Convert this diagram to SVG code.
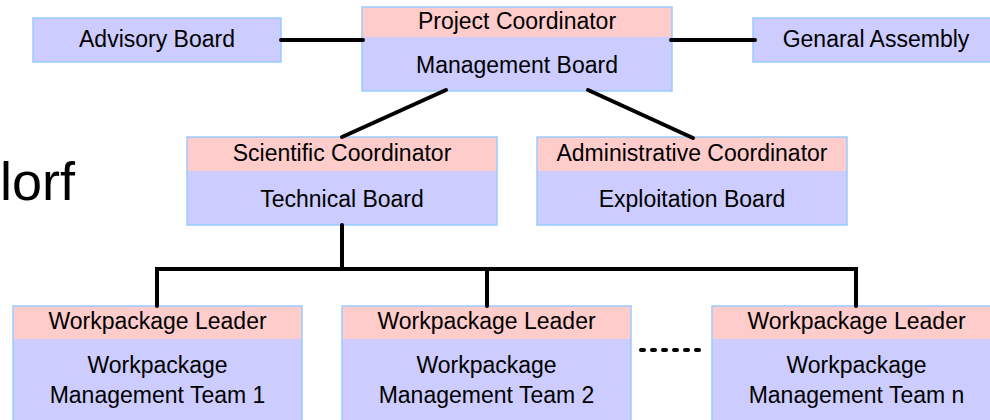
<svg xmlns="http://www.w3.org/2000/svg" width="990" height="420" viewBox="0 0 990 420">
<style>
.b{fill:#ccccff;}
.p{fill:#ffcccc;}
.o{fill:none;stroke:#99ccff;stroke-width:1.5;}
text{font-family:"Liberation Sans",Arial,sans-serif;font-size:23px;fill:#000;text-anchor:middle;}
.c{stroke:#000;stroke-width:4;stroke-linecap:round;fill:none;}
</style>
<rect width="990" height="420" fill="#fff"/>
<text x="0" y="200" style="font-size:54px;text-anchor:start">lorf</text>
<g id="advisory">
<rect class="b" x="33" y="18" width="248" height="44"/>
<rect class="o" x="33" y="18" width="248" height="44"/>
<text x="157" y="47">Advisory Board</text>
</g>
<g id="project">
<rect class="p" x="362" y="7" width="310" height="30"/>
<rect class="b" x="362" y="37" width="310" height="54"/>
<rect class="o" x="362" y="7" width="310" height="84"/>
<text x="517" y="29">Project Coordinator</text>
<text x="517" y="73">Management Board</text>
</g>
<g id="general">
<rect class="b" x="753" y="18" width="250" height="44"/>
<rect class="o" x="753" y="18" width="250" height="44"/>
<text x="876" y="47">Genaral Assembly</text>
</g>
<g id="scientific">
<rect class="p" x="187" y="137" width="310" height="34"/>
<rect class="b" x="187" y="171" width="310" height="54"/>
<rect class="o" x="187" y="137" width="310" height="88"/>
<text x="342" y="161">Scientific Coordinator</text>
<text x="342" y="207">Technical Board</text>
</g>
<g id="administrative">
<rect class="p" x="537" y="137" width="310" height="34"/>
<rect class="b" x="537" y="171" width="310" height="54"/>
<rect class="o" x="537" y="137" width="310" height="88"/>
<text x="692" y="161">Administrative Coordinator</text>
<text x="692" y="207">Exploitation Board</text>
</g>
<g id="wp1">
<rect class="p" x="13" y="306" width="289" height="33"/>
<rect class="b" x="13" y="339" width="289" height="90"/>
<rect class="o" x="13" y="306" width="289" height="123"/>
<text x="157.5" y="329">Workpackage Leader</text>
<text x="157.5" y="373">Workpackage</text>
<text x="157.5" y="403">Management Team 1</text>
</g>
<g id="wp2">
<rect class="p" x="342" y="306" width="289" height="33"/>
<rect class="b" x="342" y="339" width="289" height="90"/>
<rect class="o" x="342" y="306" width="289" height="123"/>
<text x="486.5" y="329">Workpackage Leader</text>
<text x="486.5" y="373">Workpackage</text>
<text x="486.5" y="403">Management Team 2</text>
</g>
<g id="wpn">
<rect class="p" x="712" y="306" width="289" height="33"/>
<rect class="b" x="712" y="339" width="289" height="90"/>
<rect class="o" x="712" y="306" width="289" height="123"/>
<text x="856.5" y="329">Workpackage Leader</text>
<text x="856.5" y="373">Workpackage</text>
<text x="856.5" y="403">Management Team n</text>
</g>
<g id="connectors">
<line class="c" x1="281" y1="40" x2="363" y2="40"/>
<line class="c" x1="671" y1="40" x2="755" y2="40"/>
<line class="c" x1="446" y1="90" x2="342" y2="137"/>
<line class="c" x1="588" y1="90" x2="693" y2="138"/>
<polyline class="c" points="342,225 342,269"/>
<polyline class="c" points="157,306 157,269 856,269 856,306"/>
<line class="c" x1="487" y1="269" x2="487" y2="306"/>
<line class="c" x1="641" y1="350" x2="703" y2="350" style="stroke-dasharray:3 8"/>
</g>
</svg>
